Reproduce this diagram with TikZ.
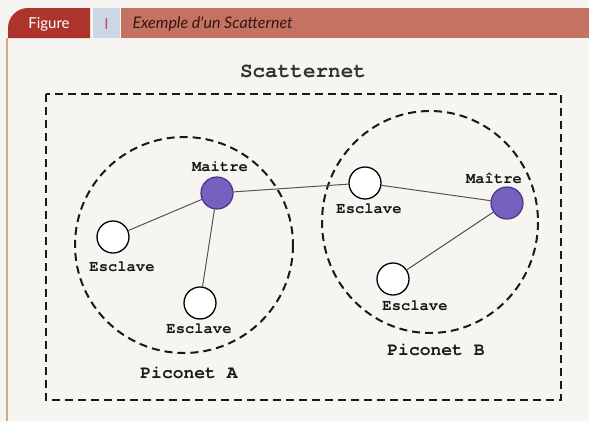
\documentclass[tikz,border=0pt]{standalone}
\usepackage{fontspec}
\setmainfont{Liberation Serif}
\newfontfamily\monob{TeX Gyre Cursor}
\newfontfamily\headfont{Lato}
\definecolor{pagebg}{RGB}{247,245,241}
\definecolor{figred}{RGB}{172,52,44}
\definecolor{tabblue}{RGB}{205,214,228}
\definecolor{tabtext}{RGB}{185,85,75}
\definecolor{titlebar}{RGB}{196,114,98}
\definecolor{titletext}{RGB}{55,22,18}
\definecolor{frameline}{RGB}{208,168,142}
\definecolor{masterfill}{RGB}{118,98,190}
\definecolor{masterdraw}{RGB}{70,55,130}
\definecolor{linkgray}{RGB}{85,85,85}
\tikzset{
  master/.style={circle, minimum size=32pt, inner sep=0pt, fill=masterfill, draw=masterdraw, line width=1.2pt},
  slave/.style={circle, minimum size=32pt, inner sep=0pt, fill=white, draw=black, line width=1.3pt},
  lbl/.style={font=\monob\bfseries\fontsize{15.5}{17}\selectfont, text=black!90, inner sep=0pt},
  piclbl/.style={font=\monob\bfseries\fontsize{18}{20}\selectfont, text=black!90, inner sep=0pt},
  link/.style={draw=linkgray, line width=1pt},
  zone/.style={draw=black!90, dashed, dash pattern=on 8pt off 5pt, line width=2pt},
}
\begin{document}
\begin{tikzpicture}[x=1pt, y=-1pt]
\useasboundingbox (0,0) rectangle (589,421);
\fill[pagebg] (0,0) rectangle (589,421);
% frame edge on the left
\draw[frameline, line width=2pt] (7,38) -- (7,421);
% header band
\fill[titlebar] (121,8) rectangle (589,38);
\fill[tabblue] (93,8) rectangle (120,38);
\fill[figred] (8,38) [rounded corners=20pt] -- (8,8) [sharp corners] -- (90,8) -- (90,38) -- cycle;
\node[font=\headfont\fontsize{15}{17}\selectfont, text=white] (figlbl) at (49,24) {Figure};
\node[font=\headfont\fontsize{15}{17}\selectfont, text=tabtext] (fignum) at (106.5,24) {I};
\node[font=\headfont\itshape\fontsize{16}{18}\selectfont, text=titletext, anchor=west] (figtitle) at (129,23.5) {Exemple d'un Scatternet};
% scatternet zone
\draw[zone] (46,94) rectangle (561,400);
\node[font=\monob\bfseries\fontsize{21}{23}\selectfont, text=black!80] (title) at (303,71) {Scatternet};
% piconets
\draw[zone] (184,245) ellipse[x radius=109, y radius=108];
\draw[zone] (430,222) ellipse[x radius=108, y radius=111];
\node[piclbl] (picA) at (189,373) {Piconet A};
\node[piclbl] (picB) at (436,350) {Piconet B};
% devices
\node[master] (mA) at (217,193) {};
\node[slave] (eT) at (365,183) {};
\node[master] (mB) at (507,203) {};
\node[slave] (eL) at (113,237) {};
\node[slave] (eA) at (200,303) {};
\node[slave] (eB) at (393,279) {};
% links
\draw[link] (mA) -- (eL);
\draw[link] (mA) -- (eA);
\draw[link] (mA) -- (eT);
\draw[link] (eT) -- (mB);
\draw[link] (mB) -- (eB);
% labels
\node[lbl] (lmA) at (220,167) {Maitre};
\node[lbl] (lmB) at (494,178) {Maître};
\node[lbl] (leT) at (369,209) {Esclave};
\node[lbl] (leL) at (122,267) {Esclave};
\node[lbl] (leA) at (199,329) {Esclave};
\node[lbl] (leB) at (415,306) {Esclave};
\end{tikzpicture}
\end{document}
